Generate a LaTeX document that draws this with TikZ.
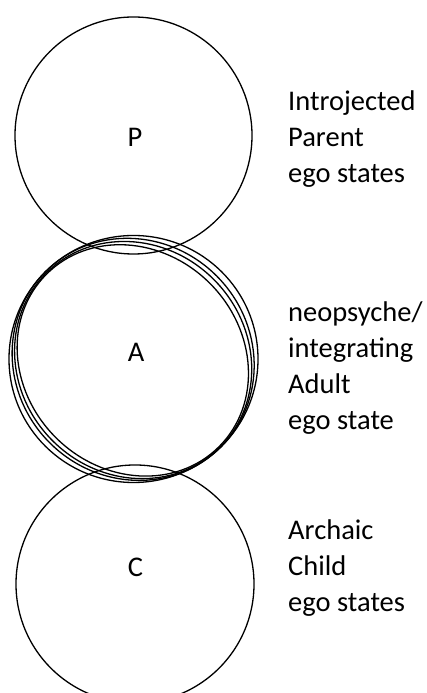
\documentclass[tikz,border=0pt]{standalone}
\usepackage{fontspec}
\setmainfont{Carlito}
\begin{document}
\begin{tikzpicture}[x=1pt,y=1pt,
  ring/.style={draw=black,line width=1.3pt,circle,inner sep=0pt,minimum size=#1},
  oval/.style={draw=black,line width=1.3pt},
  letter/.style={font=\fontsize{28.5}{34}\selectfont,inner sep=0pt,anchor=base},
  label/.style={font=\fontsize{28.5}{34}\selectfont,inner sep=0pt,anchor=base west}]
\useasboundingbox (0,0) rectangle (427,693);
% circles
\node[ring=237pt] (Pc) at (133.5,557.5) {};
\node[ring=238pt] (Cc) at (135,109) {};
% adult ego state: several overlapping outlines
\coordinate (Ac) at (133.5,334);
\draw[oval] (Ac) ellipse [x radius=124.5, y radius=123.5];
\draw[oval,rotate around={-45:(Ac)}] ([shift={(0,-0.5)}]Ac) ellipse [x radius=124, y radius=118];
\draw[oval,rotate around={-45:(Ac)}] ([shift={(0.5,-1)}]Ac) ellipse [x radius=123, y radius=114];
\draw[oval,rotate around={-45:(Ac)}] ([shift={(0.5,-1.5)}]Ac) ellipse [x radius=122, y radius=109];
% letters
\node[letter] (P) at (135,546) {P};
\node[letter] (A) at (136,331) {A};
\node[letter] (C) at (135.5,116) {C};
% labels
\node[label] (p1) at (288,582) {Introjected};
\node[label] (p2) at (288,546) {Parent};
\node[label] (p3) at (288,510) {ego states};
\node[label] (a1) at (288,371) {neopsyche/};
\node[label] (a2) at (288,335) {integrating};
\node[label] (a3) at (288,299) {Adult};
\node[label] (a4) at (288,263) {ego state};
\node[label] (c1) at (288,153) {Archaic};
\node[label] (c2) at (288,117) {Child};
\node[label] (c3) at (288,81) {ego states};
\end{tikzpicture}
\end{document}
